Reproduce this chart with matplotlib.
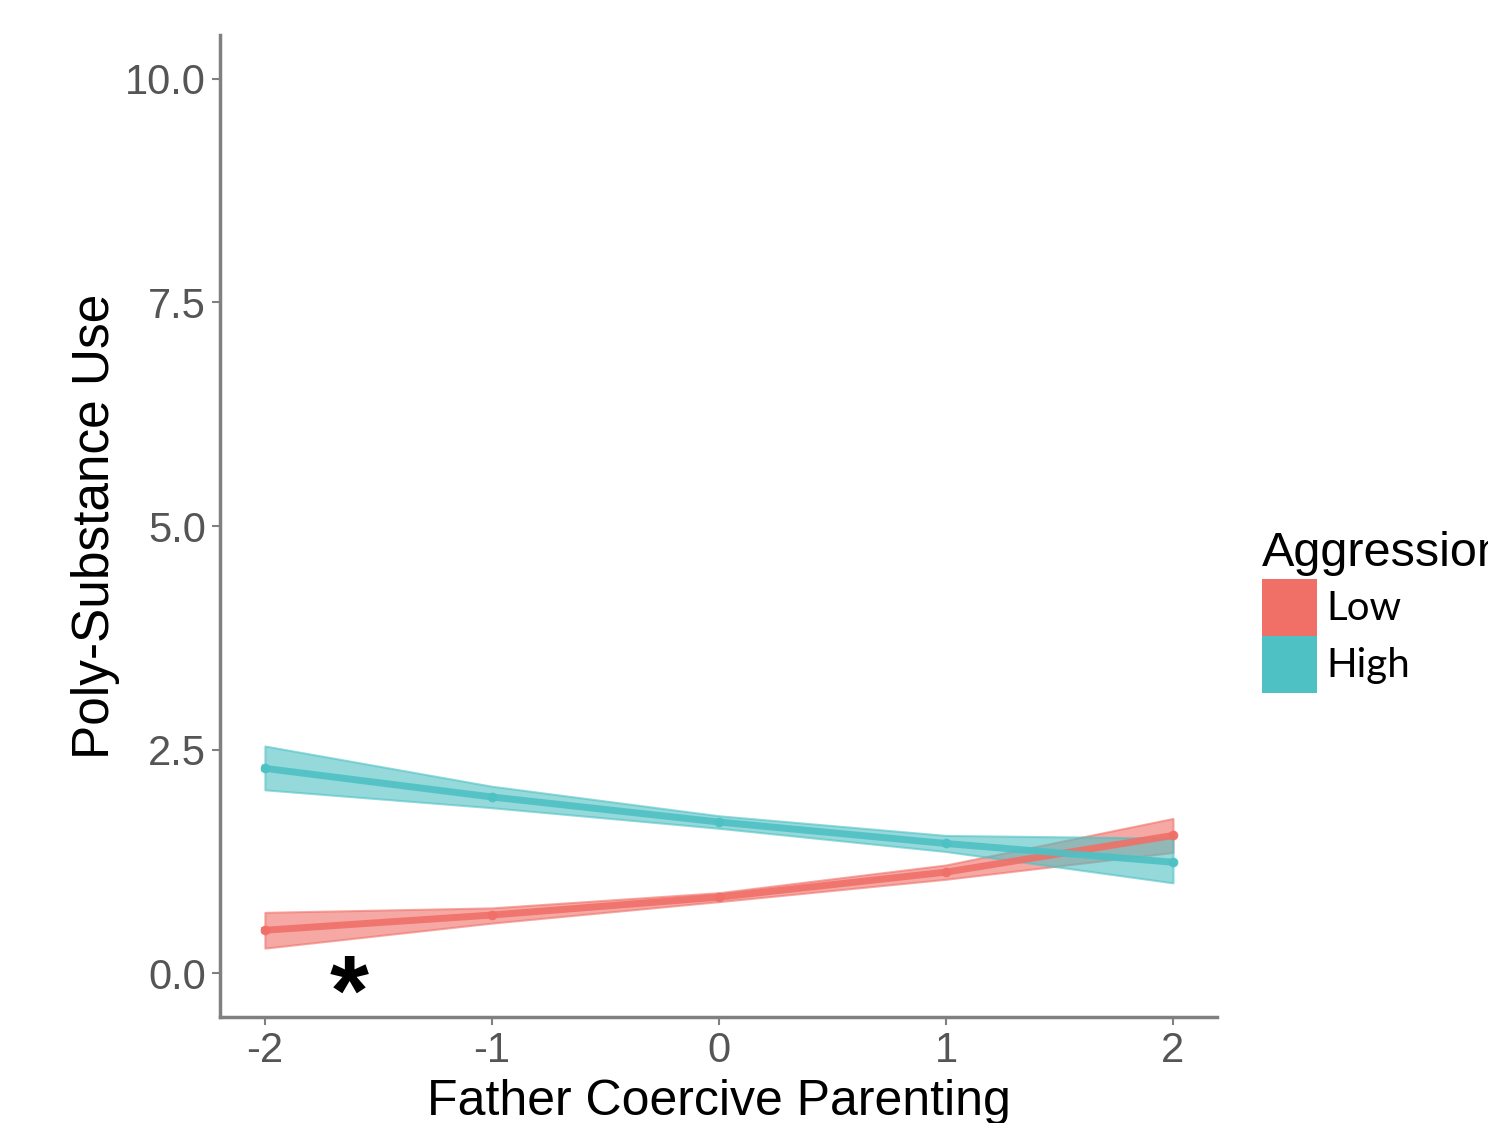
import numpy as np
import matplotlib.pyplot as plt
from matplotlib.patches import Patch

# Dados
x_vals = [-2, -1, 0, 1, 2]
groups = ['Low', 'High']
low_fit = [0.48, 0.65, 0.85, 1.13, 1.54]
low_lower = [0.28, 0.56, 0.80, 1.05, 1.35]
low_upper = [0.68, 0.73, 0.90, 1.21, 1.73]
high_fit = [2.29, 1.97, 1.69, 1.45, 1.24]
high_lower = [2.05, 1.85, 1.62, 1.36, 1.01]
high_upper = [2.54, 2.09, 1.76, 1.54, 1.51]

colors = {'Low': '#F07068', 'High': '#4EC1C4'}
series = {
    'Low': (low_fit, low_lower, low_upper),
    'High': (high_fit, high_lower, high_upper),
}

plt.rcParams['font.family'] = ['Liberation Sans', 'DejaVu Sans']

fig = plt.figure(figsize=(14.88, 11.23), dpi=100)
ax = fig.add_axes([0.1478, 0.0944, 0.8179 - 0.1478, 0.9688 - 0.0944])

for g in groups:
    fit, lo, hi = series[g]
    c = colors[g]
    ax.fill_between(x_vals, lo, hi, color=c, alpha=0.6, edgecolor=c, linewidth=1.5)
    ax.plot(x_vals, fit, color=c, linewidth=5, marker='o', markersize=6, alpha=0.9)

ax.set_xlim(-2.198, 2.194)
ax.set_ylim(-0.49, 10.49)
ax.set_xticks(x_vals)
ax.set_xticklabels(['-2', '-1', '0', '1', '2'])
ax.set_yticks([0, 2.5, 5, 7.5, 10])
ax.set_yticklabels(['0.0', '2.5', '5.0', '7.5', '10.0'])

for s in ['top', 'right']:
    ax.spines[s].set_visible(False)
for s in ['left', 'bottom']:
    ax.spines[s].set_color('#808080')
    ax.spines[s].set_linewidth(2.5)
ax.tick_params(colors='#808080', width=1.5, length=6, labelsize=30, labelcolor='#555555', pad=4)

ax.set_xlabel('Father Coercive Parenting', fontsize=36, labelpad=6)
ax.set_ylabel('Poly-Substance Use', fontsize=37, labelpad=4)

ax.text(-1.63, -0.28, '*', fontsize=72, fontweight='bold', ha='center', va='center')

handles = [Patch(facecolor=colors[g], edgecolor='none') for g in groups]
leg = fig.legend(handles, groups, loc='upper left', bbox_to_anchor=(1234 / 1488, 1 - 503 / 1123),
                 frameon=False, title='Aggression', title_fontsize=35,
                 prop={'family': 'Lato', 'size': 29},
                 handlelength=1.35, handleheight=1.8, labelspacing=0.0,
                 handletextpad=0.25, borderpad=0.2)
leg._legend_box.align = 'left'
leg._legend_box.sep = 2

fig.savefig('out.png', dpi=100)
